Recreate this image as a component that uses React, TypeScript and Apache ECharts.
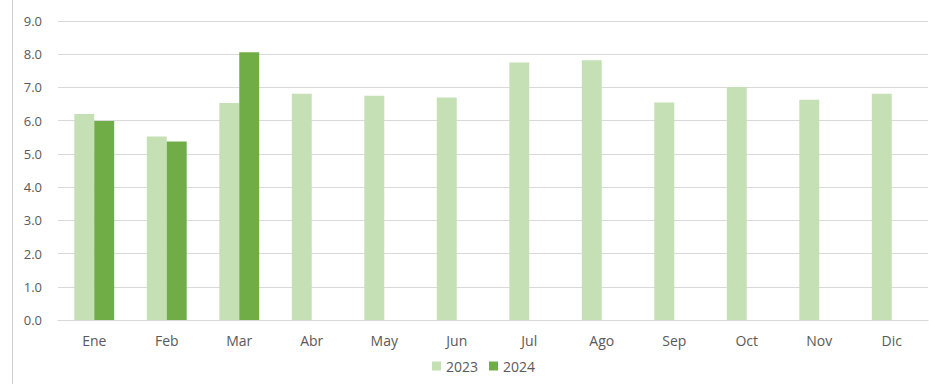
import React, { useEffect, useRef } from "react";
import * as echarts from "echarts";

const months = ["Ene", "Feb", "Mar", "Abr", "May", "Jun", "Jul", "Ago", "Sep", "Oct", "Nov", "Dic"];
const values2023 = [6.2, 5.52, 6.53, 6.81, 6.75, 6.7, 7.75, 7.82, 6.55, 7.01, 6.63, 6.81];
const values2024: (number | null)[] = [5.99, 5.37, 8.06, null, null, null, null, null, null, null, null, null];
const seriesNames = ["2023", "2024"];
const seriesColors = ["#C5E0B4", "#70AD47"];

export default function App() {
  const ref = useRef<HTMLDivElement>(null);
  useEffect(() => {
    if (!ref.current) return;
    const chart = echarts.init(ref.current, null, { renderer: "svg" });
    const font = "'Open Sans', 'Liberation Sans', sans-serif";
    chart.setOption({
      animation: false,
      backgroundColor: "#ffffff",
      textStyle: { fontFamily: font },
      grid: { left: 58, right: 1, top: 21, bottom: 64, containLabel: false },
      legend: {
        data: seriesNames,
        bottom: 6,
        left: 427,
        itemWidth: 9,
        itemHeight: 9,
        itemGap: 11,
        icon: "rect",
        textStyle: { color: "#595959", fontSize: 14, fontFamily: font },
      },
      xAxis: {
        type: "category",
        data: months,
        axisLine: { lineStyle: { color: "#D9D9D9", width: 1 } },
        axisTick: { show: false },
        axisLabel: { color: "#595959", fontSize: 14, margin: 13, fontFamily: font },
      },
      yAxis: {
        type: "value",
        min: 0,
        max: 9,
        interval: 1,
        axisLine: { show: false },
        axisTick: { show: false },
        splitLine: { lineStyle: { color: "#D9D9D9", width: 1 } },
        axisLabel: {
          color: "#595959",
          fontSize: 13,
          margin: 16,
          fontFamily: font,
          formatter: (v: number) => v.toFixed(1),
        },
      },
      series: seriesNames.map((name, i) => ({
        name,
        type: "bar",
        data: i === 0 ? values2023 : values2024,
        barGap: "0%",
        barCategoryGap: "45%",
        itemStyle: { color: seriesColors[i] },
      })),
      graphic: [
        {
          type: "line",
          shape: { x1: 12.5, y1: 0, x2: 12.5, y2: 384 },
          style: { stroke: "#D0D0D0", lineWidth: 1 },
        },
      ],
    });
    return () => chart.dispose();
  }, []);
  return (
    <div
      ref={ref}
      style={{ position: "fixed", left: 0, top: 0, width: 929, height: 384 }}
    />
  );
}
